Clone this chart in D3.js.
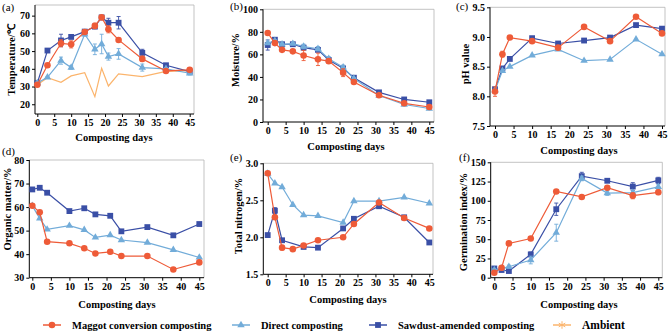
<!DOCTYPE html>
<html>
<head>
<meta charset="utf-8">
<script src="https://cdn.jsdelivr.net/npm/d3@7"></script>
<style>
  body { margin: 0; background: #fff; }
  svg { display: block; font-family: "Liberation Serif", "Times New Roman", serif; }
</style>
</head>
<body>
<svg id="chart" width="669" height="334"></svg>
<script>
// Composting indicators - 6 small line panels with a shared legend

// (a) temperature
const tempDays = [0, 3, 7, 10, 14, 17, 19, 21, 24, 31, 38, 45];
const tempMaggot = [31, 42, 54.4, 53.8, 60.8, 64.2, 69, 62.3, 56.3, 45.6, 38.8, 39.4];
const tempMaggotErr = [0.5, 1, 2, 2, 1, 1.5, 1, 2, 1, 1.5, 0.5, 1];
const tempDirect = [32, 35.2, 44.6, 40.7, 59.5, 51, 54, 46.9, 48.4, 40.7, 40, 37.5];
const tempDirectErr = [0.5, 0.5, 2, 1, 1, 3, 5.5, 2, 3, 2, 0.5, 1];
const tempSawdust = [31.9, 50.3, 56, 58, 61, 63.8, 69, 66, 66, 49, 42, 38.4];
const tempSawdustErr = [0.5, 0.5, 3.5, 1, 0.5, 1, 0.5, 2.5, 3.5, 2, 0.5, 0.5];
const tempAmbient = [31, 35, 32.4, 36, 37.8, 24.3, 40.3, 30.3, 37.1, 35.6, 38.5, 39];

// (b) moisture
const moistDays = [0, 2, 4, 7, 10, 14, 17, 21, 24, 31, 38, 45];
const moistMaggot = [79, 70, 64, 62.7, 59, 55.6, 54, 43.8, 35.5, 23.7, 16.6, 13.3];
const moistMaggotErr = [1.5, 1.5, 1, 1, 4.5, 5.5, 2, 3.5, 1.5, 1, 1, 1];
const moistDirect = [70, 72, 69, 69.5, 67, 65, 56, 48.5, 38.5, 23.5, 15.5, 12];
const moistDirectErr = [1, 1, 1, 1, 2, 2, 2, 2, 1, 1, 1, 1];
const moistSawdust = [68.3, 73, 69, 69, 66, 64, 55, 47.6, 39.3, 26.3, 20, 17.5];
const moistSawdustErr = [4.5, 1, 1, 1, 2, 1.5, 2, 1.5, 1, 1, 1, 1];

// (c) pH
const phDays = [0, 2, 4, 10, 17, 24, 31, 38, 45];
const phMaggot = [8.08, 8.71, 8.99, 8.93, 8.82, 9.17, 8.93, 9.34, 9.06];
const phMaggotErr = [0.08, 0.05, 0.01, 0.02, 0.03, 0.01, 0.01, 0.01, 0.02];
const phDirect = [8.1, 8.43, 8.5, 8.69, 8.79, 8.6, 8.62, 8.96, 8.71];
const phSawdust = [8.12, 8.47, 8.63, 8.98, 8.89, 8.94, 8.99, 9.2, 9.14];

// (d) organic matter
const omDays = [0, 2, 4, 10, 14, 17, 21, 24, 31, 38, 45];
const omMaggot = [60.6, 57.8, 45.3, 44.6, 42.5, 40.3, 41, 39.2, 39.2, 33.5, 36.5];
const omDirect = [60.5, 55.2, 50.5, 52.1, 50.3, 47.1, 48.1, 46, 44.9, 41.8, 38.6];
const omSawdust = [67.5, 68.2, 66.1, 58.3, 59.5, 56.9, 56.3, 49.7, 51.5, 48, 52.8];

// (e) total nitrogen
const tnDays = [0, 2, 4, 7, 10, 14, 21, 24, 31, 38, 45];
const tnSawdustDays = [0, 2, 4, 10, 14, 21, 24, 31, 38, 45];
const tnMaggot = [2.865, 2.27, 1.86, 1.84, 1.89, 1.96, 2.0, 2.18, 2.47, 2.26, 2.12];
const tnMaggotErr = [0.01, 0.02, 0.03, 0.01, 0.01, 0.01, 0.01, 0.01, 0.01, 0.01, 0.01];
const tnDirect = [2.86, 2.73, 2.68, 2.44, 2.30, 2.29, 2.2, 2.49, 2.49, 2.54, 2.46];
const tnSawdust = [2.03, 2.36, 1.96, 1.87, 1.86, 2.12, 2.25, 2.42, 2.27, 1.93];
const tnSawdustErr = [0.01, 0.04, 0.01, 0.01, 0.01, 0.01, 0.01, 0.01, 0.01, 0.01];

// (f) germination index
const giDays = [0, 2, 4, 10, 17, 24, 31, 38, 45];
const giMaggot = [6.5, 13, 44.6, 51, 112, 105, 117, 106.6, 111];
const giMaggotErr = [1, 1, 1, 1, 2, 1, 1, 4, 3];
const giDirect = [10, 12, 14.3, 23, 58.5, 129, 110, 110.5, 118];
const giDirectErr = [2, 2, 2, 5, 11, 3, 3, 3, 3];
const giSawdust = [12, 10, 8.7, 30.3, 89, 132, 126, 118.5, 126.5];
const giSawdustErr = [1, 1, 1, 3, 8, 5, 2, 5, 4];

const xTickValues = [0, 5, 10, 15, 20, 25, 30, 35, 40, 45];

const legendNames = ["Maggot conversion composting", "Direct composting", "Sawdust-amended composting", "Ambient"];

const STYLE = {
  maggot: { color: "#ee5b38", shape: d3.symbolCircle, size: 34 },
  direct: { color: "#72acd9", shape: d3.symbolTriangle, size: 24 },
  sawdust: { color: "#3a4fa6", shape: d3.symbolSquare, size: 34 },
  ambient: { color: "#fbb46c", shape: null, size: 0 }
};

const panels = [
  {
    label: "(a)", labelPos: [2, 11],
    box: { l: 35, r: 194, t: 5, b: 114 }, xRange: [37.3, 189.7],
    yDomain: [14.5, 76], yTicks: [20, 30, 40, 50, 60, 70], yFmt: d3.format("d"),
    yTitle: "Temperature/℃", yTitlePos: [11, 60], xTitlePos: [114, 137],
    series: [
      { key: "ambient", days: tempDays, vals: tempAmbient },
      { key: "sawdust", days: tempDays, vals: tempSawdust, err: tempSawdustErr },
      { key: "direct", days: tempDays, vals: tempDirect, err: tempDirectErr },
      { key: "maggot", days: tempDays, vals: tempMaggot, err: tempMaggotErr }
    ]
  },
  {
    label: "(b)", labelPos: [230, 10],
    box: { l: 263, r: 434, t: 9.3, b: 122 }, xRange: [267.7, 429.3],
    yDomain: [0, 100], yTicks: [0, 20, 40, 60, 80, 100], yFmt: d3.format("d"),
    yTitle: "Moisture/%", yTitlePos: [235, 60], xTitlePos: [346, 146],
    series: [
      { key: "sawdust", days: moistDays, vals: moistSawdust, err: moistSawdustErr },
      { key: "direct", days: moistDays, vals: moistDirect, err: moistDirectErr },
      { key: "maggot", days: moistDays, vals: moistMaggot, err: moistMaggotErr }
    ]
  },
  {
    label: "(c)", labelPos: [456, 10],
    box: { l: 490, r: 665, t: 7.3, b: 126 }, xRange: [495, 662],
    yDomain: [7.5, 9.5], yTicks: [7.5, 8.0, 8.5, 9.0, 9.5], yFmt: d3.format(".1f"),
    yTitle: "pH value", yTitlePos: [465, 64], xTitlePos: [579, 150],
    series: [
      { key: "sawdust", days: phDays, vals: phSawdust },
      { key: "direct", days: phDays, vals: phDirect },
      { key: "maggot", days: phDays, vals: phMaggot, err: phMaggotErr }
    ]
  },
  {
    label: "(d)", labelPos: [2, 155],
    box: { l: 29.3, r: 204, t: 160, b: 277.7 }, xRange: [32.3, 199.3],
    yDomain: [30, 80], yTicks: [30, 40, 50, 60, 70, 80], yFmt: d3.format("d"),
    yTitle: "Organic matter/%", yTitlePos: [7, 209], xTitlePos: [117, 304],
    series: [
      { key: "sawdust", days: omDays, vals: omSawdust },
      { key: "direct", days: omDays, vals: omDirect },
      { key: "maggot", days: omDays, vals: omMaggot }
    ]
  },
  {
    label: "(e)", labelPos: [230, 161],
    box: { l: 263.3, r: 433, t: 163.3, b: 274.3 }, xRange: [267.7, 429.3],
    yDomain: [1.5, 3.0], yTicks: [1.5, 2.0, 2.5, 3.0], yFmt: d3.format(".1f"),
    yTitle: "Total nitrogen/%", yTitlePos: [238, 216], xTitlePos: [348, 299],
    series: [
      { key: "direct", days: tnDays, vals: tnDirect },
      { key: "sawdust", days: tnSawdustDays, vals: tnSawdust, err: tnSawdustErr },
      { key: "maggot", days: tnDays, vals: tnMaggot, err: tnMaggotErr }
    ]
  },
  {
    label: "(f)", labelPos: [459, 161],
    box: { l: 490.7, r: 662.3, t: 162.3, b: 277.7 }, xRange: [494.3, 658.3],
    yDomain: [0, 150], yTicks: [0, 25, 50, 75, 100, 125, 150], yFmt: d3.format("d"),
    yTitle: "Germination index/%", yTitlePos: [463, 222], xTitlePos: [579, 304],
    series: [
      { key: "sawdust", days: giDays, vals: giSawdust, err: giSawdustErr },
      { key: "direct", days: giDays, vals: giDirect, err: giDirectErr },
      { key: "maggot", days: giDays, vals: giMaggot, err: giMaggotErr }
    ]
  }
];

const svg = d3.select("#chart");

function drawPanel(p) {
  const g = svg.append("g");
  const x = d3.scaleLinear().domain([0, 45]).range(p.xRange);
  const y = d3.scaleLinear().domain(p.yDomain).range([p.box.b, p.box.t]);

  // grey frame on top and right
  g.append("path")
    .attr("d", `M${p.box.l},${p.box.t}H${p.box.r}V${p.box.b}`)
    .attr("fill", "none")
    .attr("stroke", "#b4b4b4")
    .attr("stroke-width", 0.8);

  const yAxis = g.append("g")
    .attr("transform", `translate(${p.box.l},0)`)
    .call(d3.axisLeft(y).tickValues(p.yTicks).tickFormat(p.yFmt).tickSize(3).tickPadding(2));
  const xAxis = g.append("g")
    .attr("transform", `translate(0,${p.box.b})`)
    .call(d3.axisBottom(x).tickValues(xTickValues).tickSize(3).tickPadding(2));

  [yAxis, xAxis].forEach(a => {
    a.select(".domain").remove();
    a.selectAll(".tick line").attr("stroke", "#000").attr("stroke-width", 1);
    a.selectAll(".tick text")
      .attr("fill", "#000")
      .style("font-family", "Liberation Serif, serif")
      .style("font-size", "10px")
      .style("font-weight", "bold");
  });

  g.append("path")
    .attr("d", `M${p.box.l},${p.box.t}V${p.box.b}H${p.box.r}`)
    .attr("fill", "none")
    .attr("stroke", "#000")
    .attr("stroke-width", 1);

  p.series.forEach(s => {
    const st = STYLE[s.key];
    const pts = s.days.map((d, i) => ({ d: d, v: s.vals[i], e: s.err ? s.err[i] : 0 }));

    // error bars
    const eb = g.append("g").attr("stroke", st.color).attr("stroke-width", 0.9);
    pts.filter(pt => pt.e > 0).forEach(pt => {
      const cx = x(pt.d);
      const y1 = y(pt.v + pt.e), y2 = y(pt.v - pt.e);
      eb.append("line").attr("x1", cx).attr("x2", cx).attr("y1", y1).attr("y2", y2);
      eb.append("line").attr("x1", cx - 2).attr("x2", cx + 2).attr("y1", y1).attr("y2", y1);
      eb.append("line").attr("x1", cx - 2).attr("x2", cx + 2).attr("y1", y2).attr("y2", y2);
    });

    g.append("path")
      .datum(pts)
      .attr("fill", "none")
      .attr("stroke", st.color)
      .attr("stroke-width", 1.2)
      .attr("d", d3.line().x(pt => x(pt.d)).y(pt => y(pt.v)));

    if (st.shape) {
      g.selectAll(null)
        .data(pts)
        .join("path")
        .attr("transform", pt => `translate(${x(pt.d)},${y(pt.v)})`)
        .attr("d", d3.symbol().type(st.shape).size(st.size))
        .attr("fill", st.color);
    }
  });

  g.append("text")
    .attr("x", p.labelPos[0])
    .attr("y", p.labelPos[1])
    .style("font-size", "11px")
    .text(p.label);

  g.append("text")
    .attr("transform", `translate(${p.yTitlePos[0]},${p.yTitlePos[1]}) rotate(-90)`)
    .attr("text-anchor", "middle")
    .attr("dy", "0.35em")
    .style("font-size", "10.5px")
    .style("font-weight", "bold")
    .text(p.yTitle);

  g.append("text")
    .attr("x", p.xTitlePos[0])
    .attr("y", p.xTitlePos[1])
    .attr("text-anchor", "middle")
    .attr("dy", "0.35em")
    .style("font-size", "10.5px")
    .style("font-weight", "bold")
    .text("Composting days");
}

panels.forEach(drawPanel);

// legend
const legendKeys = ["maggot", "direct", "sawdust", "ambient"];
const legendX = [52, 241, 378, 562];
const legendY = 325;
const legend = svg.append("g");
legendKeys.forEach((k, i) => {
  const st = STYLE[k];
  const cx = legendX[i];
  legend.append("line")
    .attr("x1", cx - 9).attr("x2", cx + 9)
    .attr("y1", legendY).attr("y2", legendY)
    .attr("stroke", st.color).attr("stroke-width", 1.5);
  if (st.shape) {
    legend.append("path")
      .attr("transform", `translate(${cx},${legendY})`)
      .attr("d", d3.symbol().type(st.shape).size(st.size))
      .attr("fill", st.color);
  } else {
    legend.append("path")
      .attr("transform", `translate(${cx},${legendY})`)
      .attr("d", d3.symbol().type(d3.symbolAsterisk).size(40))
      .attr("fill", "none")
      .attr("stroke", st.color)
      .attr("stroke-width", 1);
  }
  legend.append("text")
    .attr("x", cx + 20)
    .attr("y", legendY)
    .attr("dy", "0.35em")
    .style("font-size", k === "ambient" ? "11.5px" : "10.5px")
    .style("font-weight", "bold")
    .text(legendNames[i]);
});
</script>
</body>
</html>
